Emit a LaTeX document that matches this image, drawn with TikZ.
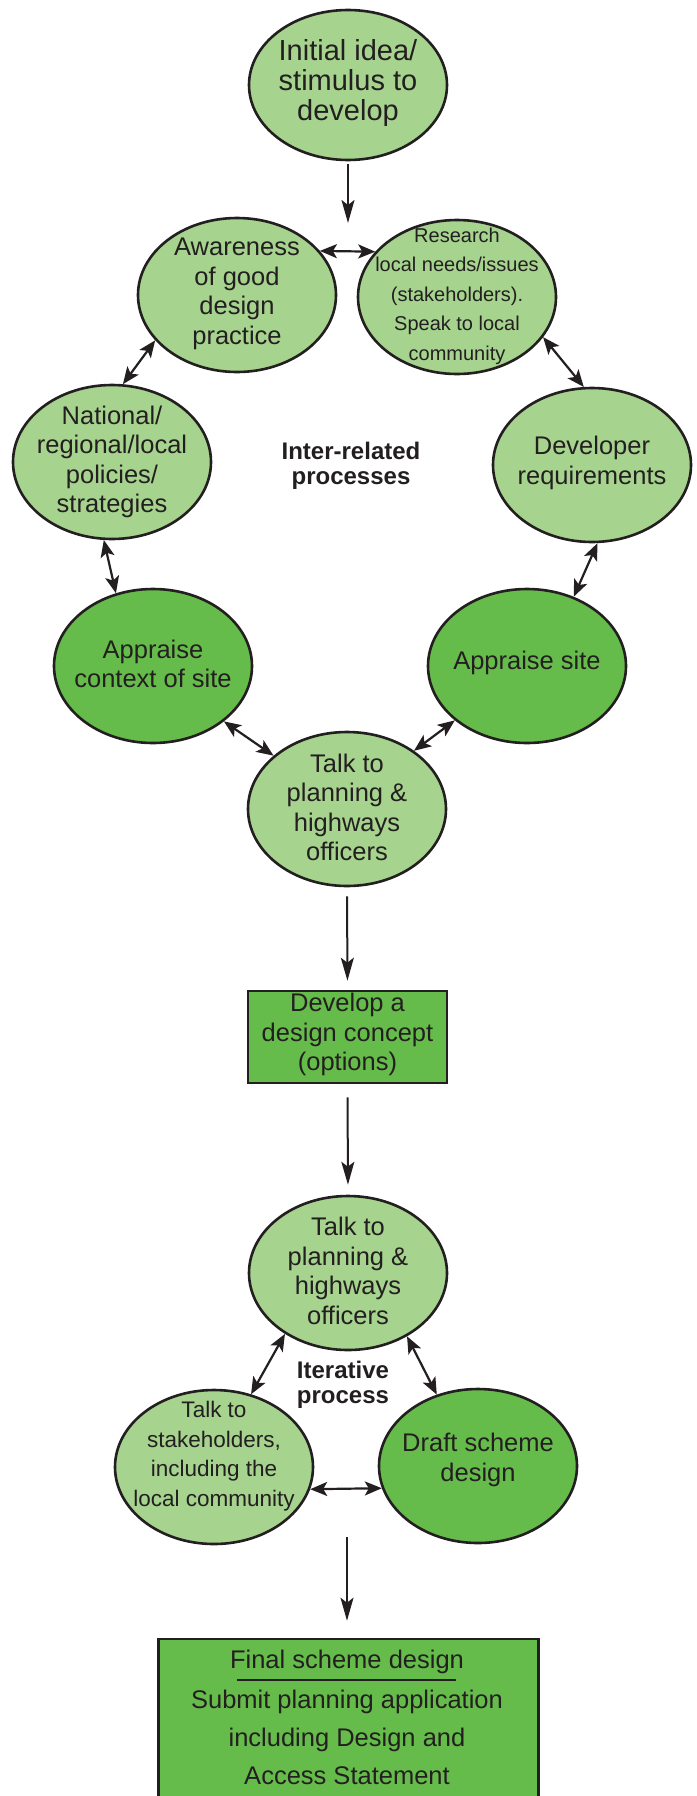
\documentclass[tikz,border=0pt]{standalone}
\usepackage{fontspec}
\setmainfont{Liberation Sans}
\usetikzlibrary{shapes.geometric,arrows.meta}
\definecolor{lightg}{HTML}{A6D38E}
\definecolor{darkg}{HTML}{66BC4A}
\definecolor{ink}{HTML}{231F20}
\tikzset{
  ell/.style={ellipse, draw=ink, line width=2.6pt, minimum width=198pt, minimum height=154pt, inner sep=0pt},
  lightell/.style={ell, fill=lightg},
  darkell/.style={ell, fill=darkg},
  boxnode/.style={rectangle, draw=ink, line width=2.6pt, fill=darkg, inner sep=0pt},
  txt/.style={align=center, text=ink, inner sep=0pt, font=\fontsize{25.5}{29.5}\selectfont},
  smalltxt/.style={txt, font=\fontsize{20}{29.5}\selectfont},
  midtxt/.style={txt, font=\fontsize{22.5}{29.5}\selectfont},
  bigtxt/.style={txt, font=\fontsize{29}{30}\selectfont},
  boldtxt/.style={txt, font=\fontsize{24}{25}\selectfont\bfseries},
  boxtxt/.style={txt, font=\fontsize{25.5}{38}\selectfont},
  arr/.style={draw=ink, line width=2pt, -{Stealth[length=23pt,width=13pt,inset=5pt]}},
  darr/.style={draw=ink, line width=2.2pt, {Stealth[length=17pt,width=14pt,inset=4pt]}-{Stealth[length=17pt,width=14pt,inset=4pt]}}
}
\begin{document}
\begin{tikzpicture}[x=1pt,y=-1pt]
\useasboundingbox (0,0) rectangle (696,1796);
% ellipses
\node[lightell, minimum height=150pt] (initial) at (348,85) {};
\node[lightell] (aware) at (237,295) {};
\node[lightell] (research) at (457,297) {};
\node[lightell] (national) at (112,462) {};
\node[lightell] (developer) at (592,465) {};
\node[darkell] (appctx) at (153,666) {};
\node[darkell] (appsite) at (527,666) {};
\node[lightell] (talk) at (347,809) {};
\node[boxnode, minimum width=199pt, minimum height=92pt] (develop) at (347.5,1037) {};
\node[lightell] (talk2) at (348,1273) {};
\node[lightell] (stake) at (214,1467) {};
\node[darkell] (draft) at (478,1466) {};
\node[boxnode, minimum width=380pt, minimum height=220pt] (final) at (348.5,1749) {};
% texts
\node[bigtxt] (initial-t) at (348,83) {Initial idea/\\stimulus to\\develop};
\node[txt] (aware-t) at (237,294) {Awareness\\of good\\design\\practice};
\node[smalltxt] (research-t) at (457,296) {Research\\local needs/issues\\(stakeholders).\\Speak to local\\community};
\node[txt] (national-t) at (112,462) {National/\\regional/local\\policies/\\strategies};
\node[txt] (developer-t) at (592,463) {Developer\\requirements};
\node[boldtxt] (inter-t) at (351,466) {Inter-related\\processes};
\node[txt] (appctx-t) at (153,664) {Appraise\\context of site};
\node[txt] (appsite-t) at (527,663) {Appraise site};
\node[txt] (talk-t) at (347,807.5) {Talk to\\planning \&\\highways\\officers};
\node[txt] (develop-t) at (347.5,1034.5) {Develop a\\design concept\\(options)};
\node[txt] (talk2-t) at (348,1271) {Talk to\\planning \&\\highways\\officers};
\node[boldtxt] (iter-t) at (343,1384.5) {Iterative\\process};
\node[midtxt] (stake-t) at (214,1456) {Talk to\\stakeholders,\\including the\\local community};
\node[txt] (draft-t) at (478,1460) {Draft scheme\\design};
\node[boxtxt] (final-t) at (347,1662) {Final scheme design};
\node[boxtxt] (final-t2) at (347,1737) {Submit planning application\\including Design and\\Access Statement};
\coordinate (ulA) at (237,1680);
\coordinate (ulB) at (456,1680);
\draw[draw=ink, line width=2.2pt] (ulA) -- (ulB);
% arrows
\coordinate (a1) at (348,223);
\draw[arr, shorten <=3pt] (initial.south) -- (a1);
\draw[arr, shorten <=9pt, shorten >=9pt] (talk.south) -- (develop.north);
\draw[arr, shorten <=13pt, shorten >=10pt] (develop.south) -- (talk2.north);
\coordinate (a2) at (347,1537);
\draw[arr, shorten >=17pt] (a2) -- (final.north -| a2);
% double arrows
\draw[darr] (aware.28) -- (research.151);
\draw[darr] (aware.209) -- (national.82);
\draw[darr] (research.335) -- (developer.96);
\draw[darr] (national.264) -- (appctx.117);
\draw[darr] (developer.274) -- (appsite.56);
\draw[darr] (appctx.322) -- (talk.144.5);
\draw[darr] (appsite.217) -- (talk.41);
\draw[darr] (talk2.224.6) -- (stake.63.4);
\draw[darr] (talk2.313.3) -- (draft.120.2);
\draw[darr] (stake.347.5) -- (draft.193);
\end{tikzpicture}
\end{document}
